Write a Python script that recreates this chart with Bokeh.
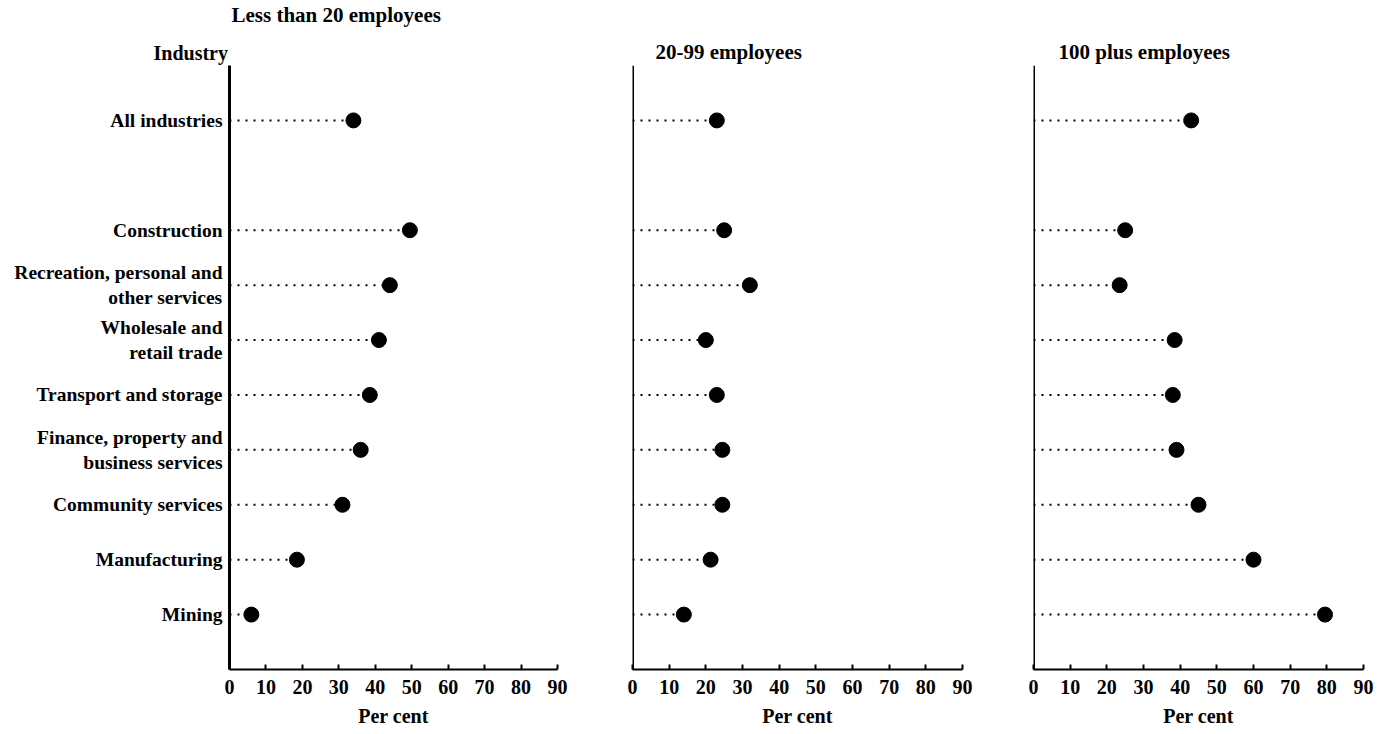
from bokeh.plotting import figure
from bokeh.models import (FactorRange, FixedTicker, Range1d, ColumnDataSource,
                          Title, Span)
from bokeh.layouts import row
from bokeh.embed import file_html
from bokeh.resources import INLINE

# ---- data ----
categories = [
    "All industries",
    "Construction",
    "Recreation, personal and\nother services",
    "Wholesale and\nretail trade",
    "Transport and storage",
    "Finance, property and\nbusiness services",
    "Community services",
    "Manufacturing",
    "Mining",
]
spacer = " "
panel_titles = ["Less than 20 employees", "20-99 employees", "100 plus employees"]
small_firms = [34, 49.5, 44, 41, 38.5, 36, 31, 18.5, 6]
medium_firms = [23, 25, 32, 20, 23, 24.5, 24.5, 21.3, 14]
large_firms = [43, 25, 23.5, 38.5, 38, 39, 45, 60, 79.5]
x_ticks = [0, 10, 20, 30, 40, 50, 60, 70, 80, 90]

FONT = "Liberation Serif"
FS = "20px"

factors = list(reversed(categories[1:])) + [spacer, categories[0]]
y_range = FactorRange(factors=factors, range_padding=0.1, range_padding_units="percent")


def make_panel(vals, show_labels, frame_w, bl, br):
    p = figure(
        y_range=y_range,
        x_range=Range1d(0, 90),
        frame_width=frame_w,
        frame_height=604,
        min_border_left=bl,
        min_border_right=br,
        min_border_top=65,
        min_border_bottom=40,
        output_backend="svg",
        toolbar_location=None,
        y_axis_location="left" if show_labels else None,
    )
    p.outline_line_color = None
    p.xgrid.visible = False
    p.ygrid.visible = False
    p.background_fill_color = "white"

    src = ColumnDataSource(dict(cat=categories, val=vals, zero=[0] * len(vals)))
    p.segment(x0="zero", y0="cat", x1="val", y1="cat", source=src,
              line_color="black", line_width=2, line_dash="2 6")
    p.scatter(x="val", y="cat", source=src, size=15, color="black")

    xa = p.xaxis[0]
    xa.ticker = FixedTicker(ticks=x_ticks)
    xa.axis_label = "Per cent"
    xa.axis_label_text_font = FONT
    xa.axis_label_text_font_style = "bold"
    xa.axis_label_text_font_size = FS
    xa.axis_label_text_color = "black"
    xa.axis_label_standoff = 8
    xa.major_label_text_font = FONT
    xa.major_label_text_font_style = "bold"
    xa.major_label_text_font_size = FS
    xa.major_label_text_color = "black"
    xa.major_label_standoff = 10
    xa.major_tick_in = 5
    xa.major_tick_out = 0
    xa.minor_tick_in = 0
    xa.minor_tick_out = 0
    xa.axis_line_width = 2
    xa.major_tick_line_width = 2
    xa.axis_line_color = "black"

    if show_labels:
        ya = p.yaxis[0]
        ya.major_label_text_font_size = "19.5px"
        ya.major_label_text_font = FONT
        ya.major_label_text_font_style = "bold"
        ya.major_label_text_color = "black"
        ya.major_label_standoff = 7
        ya.major_tick_in = 0
        ya.major_tick_out = 0
        ya.axis_line_width = 3
        ya.axis_line_color = "black"
    else:
        p.add_layout(Span(location=0, dimension="height", line_color="black",
                          line_width=3))
    return p


def add_title(p, text, offset, pad_bottom, size="21px"):
    p.add_layout(Title(text=text, align="left", offset=offset, standoff=0,
                       vertical_align="top",
                       padding=(0, 0, pad_bottom, 0),
                       text_font=FONT, text_font_size=size, text_font_style="bold",
                       text_color="black"), "above")


p1 = make_panel(small_firms, True, 328, 229, 43)
add_title(p1, "Industry", -76, 13, "20px")
add_title(p1, panel_titles[0], 2, 0)
p2 = make_panel(medium_firms, False, 330, 32, 38)
add_title(p2, panel_titles[1], 23, 36)
p3 = make_panel(large_firms, False, 330, 33, 15)
add_title(p3, panel_titles[2], 25, 36)

layout = row(p1, p2, p3)
open("out.html", "w").write(file_html(layout, INLINE))
